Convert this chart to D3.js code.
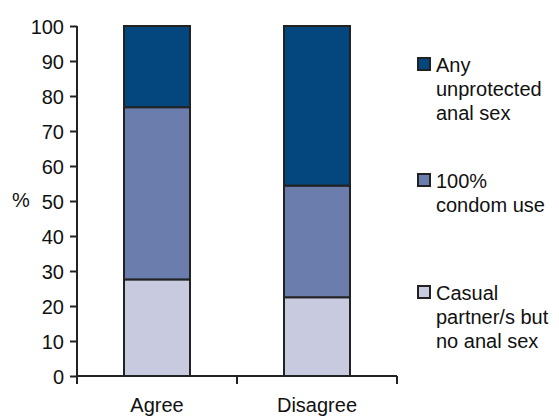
<!DOCTYPE html>
<html><head><meta charset="utf-8">
<script src="https://cdn.jsdelivr.net/npm/d3@7"></script>
<style>body{margin:0;background:#fff}svg{display:block}text{font-family:"Liberation Sans",Arial,sans-serif;fill:#111}</style>
</head><body>
<svg id="c" width="559" height="416"></svg>
<script>
const categories = ["Agree", "Disagree"];
const seriesNames = ["Casual partner/s but no anal sex", "100% condom use", "Any unprotected anal sex"];
const casual = [27.6, 22.5];
const condom = [49.2, 31.9];
const unprotected = [23.2, 45.6];
const yTicks = [0,10,20,30,40,50,60,70,80,90,100];
const colors = ["#c8cadf", "#6b7dac", "#04477f"];
const legendLines = [["Any","unprotected","anal sex"],["100%","condom use"],["Casual","partner/s but","no anal sex"]];

const FS = "20px";
const svg = d3.select("#c");
const m = {l:77};
const x = d3.scaleBand().domain(categories).range([m.l, 397]).paddingInner(0).paddingOuter(0);
const y = d3.scaleLinear().domain([0,100]).range([376, 26]);

const rows = categories.map((c,i)=>({cat:c, s0:casual[i], s1:condom[i], s2:unprotected[i]}));
const stack = d3.stack().keys(["s0","s1","s2"])(rows);
const bw = 66;
stack.forEach((layer, li)=>{
  svg.append("g").selectAll("rect").data(layer).join("rect")
    .attr("x", d=>x(d.data.cat)+x.bandwidth()/2-bw/2)
    .attr("y", d=>y(d[1]))
    .attr("width", bw)
    .attr("height", d=>y(d[0])-y(d[1]))
    .attr("fill", colors[li])
    .attr("stroke", "#222").attr("stroke-width", 2);
});

// y axis
const ya = svg.append("g").attr("transform", `translate(${m.l},0)`)
  .call(d3.axisLeft(y).tickValues(yTicks).tickSize(7).tickSizeOuter(0).tickPadding(6));
ya.select(".domain").attr("stroke","#222").attr("stroke-width",2).attr("d", `M0,${y(100)}V384`);
ya.selectAll(".tick line").attr("stroke","#222").attr("stroke-width",2);
ya.selectAll(".tick text").style("font-size",FS).attr("fill","#111").attr("dy","0.35em");

// x axis
const xa = svg.append("g").attr("transform", `translate(0,${y(0)})`);
xa.append("line").attr("x1", m.l).attr("x2", 397).attr("y1",0).attr("y2",0).attr("stroke","#222").attr("stroke-width",2);
const bounds = [x.range()[0], x(categories[1]), x.range()[1]];
xa.selectAll("line.t").data(bounds.slice(1)).join("line").attr("class","t")
  .attr("x1", d=>d).attr("x2", d=>d).attr("y1",0).attr("y2",8).attr("stroke","#222").attr("stroke-width",2);
xa.selectAll("text").data(categories).join("text")
  .attr("x", d=>x(d)+x.bandwidth()/2).attr("y", 36).attr("text-anchor","middle")
  .style("font-size",FS).text(d=>d);

// y label
svg.append("text").attr("x", 21).attr("y", 207).attr("text-anchor","middle").style("font-size",FS).text("%");

// legend
const legTop = [58, 174, 286];
const legIdx = [2,1,0];
legIdx.forEach((si, k)=>{
  const g = svg.append("g");
  g.append("rect").attr("x", 418).attr("y", legTop[k]).attr("width", 12).attr("height", 12)
    .attr("fill", colors[si]).attr("stroke","#222").attr("stroke-width",2);
  legendLines[k].forEach((t,j)=>{
    g.append("text").attr("x", 436).attr("y", legTop[k]+14+j*24).style("font-size",FS).text(t);
  });
});
</script>
</body></html>
